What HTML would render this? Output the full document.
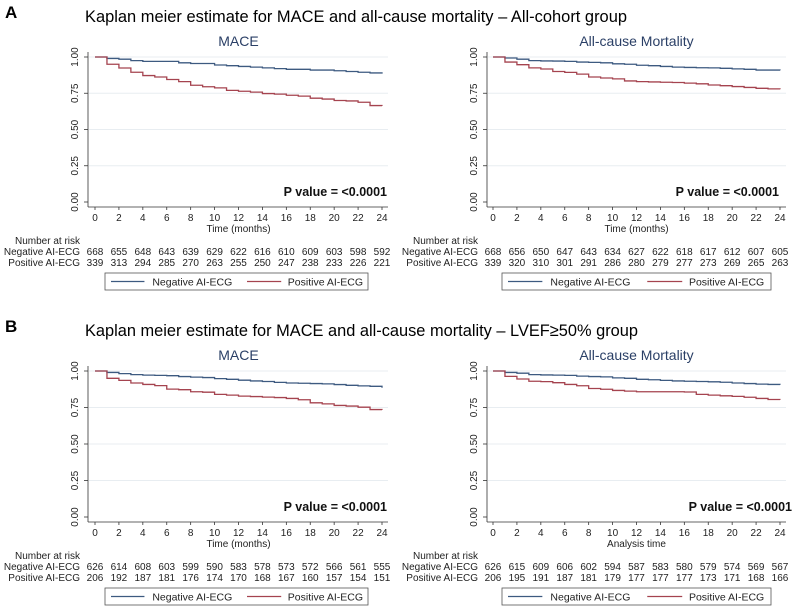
<!DOCTYPE html>
<html><head><meta charset="utf-8"><style>
html,body{margin:0;padding:0;background:#fff;}
svg{display:block;font-family:"Liberation Sans",Arial,sans-serif;}
</style></head><body>
<svg id="fig" width="796" height="608" viewBox="0 0 796 608">
<text x="5" y="18" font-size="17" font-weight="bold">A</text>
<text x="85" y="22" font-size="17" textLength="542" lengthAdjust="spacingAndGlyphs">Kaplan meier estimate for MACE and all-cause mortality – All-cohort group</text>
<text x="5" y="332" font-size="17" font-weight="bold">B</text>
<text x="85" y="336" font-size="17" textLength="553" lengthAdjust="spacingAndGlyphs">Kaplan meier estimate for MACE and all-cause mortality – LVEF≥50% group</text>
</svg>
<script>
const months = [0,1,2,3,4,5,6,7,8,9,10,11,12,13,14,15,16,17,18,19,20,21,22,23,24];
const xTicks = [0,2,4,6,8,10,12,14,16,18,20,22,24];
const yTicks = [0,0.25,0.5,0.75,1];
const yTickLabels = ["0.00","0.25","0.50","0.75","1.00"];

const aMaceNeg = [1,0.99,0.985,0.975,0.97,0.97,0.97,0.96,0.955,0.955,0.945,0.94,0.935,0.93,0.925,0.92,0.915,0.915,0.91,0.91,0.905,0.9,0.895,0.89,0.885];
const aMacePos = [1,0.95,0.924,0.895,0.872,0.862,0.845,0.83,0.805,0.795,0.787,0.77,0.764,0.758,0.748,0.744,0.736,0.73,0.716,0.71,0.70,0.697,0.688,0.665,0.663];
const aMortNeg = [1,0.993,0.985,0.975,0.973,0.972,0.97,0.965,0.963,0.96,0.953,0.95,0.943,0.94,0.935,0.93,0.928,0.926,0.925,0.922,0.918,0.915,0.91,0.91,0.908];
const aMortPos = [1,0.965,0.947,0.925,0.917,0.9,0.894,0.882,0.862,0.855,0.849,0.835,0.83,0.828,0.826,0.824,0.82,0.815,0.807,0.802,0.796,0.79,0.784,0.78,0.778];
const bMaceNeg = [1,0.99,0.982,0.975,0.972,0.97,0.968,0.962,0.958,0.955,0.948,0.943,0.937,0.932,0.928,0.922,0.918,0.916,0.914,0.912,0.907,0.902,0.898,0.895,0.885];
const bMacePos = [1,0.95,0.936,0.918,0.908,0.9,0.876,0.872,0.858,0.855,0.84,0.835,0.828,0.825,0.821,0.818,0.812,0.803,0.782,0.775,0.764,0.76,0.752,0.736,0.734];
const bMortNeg = [1,0.99,0.985,0.975,0.973,0.972,0.97,0.965,0.962,0.96,0.953,0.95,0.943,0.94,0.936,0.932,0.93,0.928,0.926,0.923,0.918,0.914,0.91,0.908,0.906];
const bMortPos = [1,0.963,0.945,0.93,0.927,0.92,0.908,0.899,0.88,0.875,0.867,0.862,0.858,0.858,0.858,0.858,0.856,0.84,0.835,0.83,0.826,0.82,0.812,0.805,0.803];

const aMaceRiskNeg = [668,655,648,643,639,629,622,616,610,609,603,598,592];
const aMaceRiskPos = [339,313,294,285,270,263,255,250,247,238,233,226,221];
const aMortRiskNeg = [668,656,650,647,643,634,627,622,618,617,612,607,605];
const aMortRiskPos = [339,320,310,301,291,286,280,279,277,273,269,265,263];
const bMaceRiskNeg = [626,614,608,603,599,590,583,578,573,572,566,561,555];
const bMaceRiskPos = [206,192,187,181,176,174,170,168,167,160,157,154,151];
const bMortRiskNeg = [626,615,609,606,602,594,587,583,580,579,574,569,567];
const bMortRiskPos = [206,195,191,187,181,179,177,177,177,173,171,168,166];

const NS = "http://www.w3.org/2000/svg";
const svg = document.getElementById('fig');
function el(tag, attrs, parent, text){
  const e = document.createElementNS(NS, tag);
  for (const k in attrs) e.setAttribute(k, attrs[k]);
  if (text !== undefined) e.textContent = text;
  (parent||svg).appendChild(e);
  return e;
}
const NEG = "#3d5a80", POS = "#a5434f";

function panel(p){
  const g = el('g', {});
  
  
  const x = t => p.x0 + (p.x1 - p.x0) * t / 24;
  const y = v => p.yb + (p.yt - p.yb) * v;
  const st = el('text', {x:(p.x0+p.x1)/2, y:p.yt-11, 'font-size':14, fill:'#2a3f66', 'text-anchor':'middle'}, g, p.sub);
  
  
  yTicks.forEach((v,i)=>{
    if (v > 0) {
      const gl = el('line', {x1:p.ax+1, x2:p.x1+6, y1:y(v), y2:y(v), stroke:'#e8edf1', 'stroke-width':1}, g);
      
      
    }
    el('line', {x1:p.ax-4, x2:p.ax, y1:y(v), y2:y(v), stroke:'#333', 'stroke-width':0.8}, g);
    const tl = el('text', {x:0, y:0, 'font-size':10, 'text-anchor':'middle', fill:'#222',
      transform:`translate(${p.ax-10},${y(v)}) rotate(-90)`}, g, yTickLabels[i]);
    
    
  });
  el('line', {x1:p.ax, x2:p.ax, y1:p.yt-5, y2:p.axY, stroke:'#333', 'stroke-width':0.8}, g);
  el('line', {x1:p.ax, x2:p.x1+6, y1:p.axY, y2:p.axY, stroke:'#333', 'stroke-width':0.8}, g);
  xTicks.forEach(t=>{
    el('line', {x1:x(t), x2:x(t), y1:p.axY, y2:p.axY+3, stroke:'#333', 'stroke-width':0.8}, g);
    const tl = el('text', {x:x(t), y:p.axY+14, 'font-size':10, 'text-anchor':'middle', fill:'#222'}, g, String(t));
    
    
  });
  const xt = el('text', {x:(p.x0+p.x1)/2, y:p.axY+25, 'font-size':10, 'text-anchor':'middle', fill:'#222'}, g, p.xtitle);
  
  
  [[p.neg, NEG, 'negative-ai-ecg-curve'], [p.pos, POS, 'positive-ai-ecg-curve']].forEach(([arr,c,nm])=>{
    let d = `M${x(months[0])},${y(arr[0])}`;
    for (let i=1;i<arr.length;i++){ d += ` H${x(months[i])} V${y(arr[i])}`; }
    const path = el('path', {d, fill:'none', stroke:c, 'stroke-width':1.3}, g);
    
    
  });
  const pv = el('text', {x:p.pvx, y:p.yb-6, 'font-size':12.5, 'font-weight':'bold', 'text-anchor':'end', fill:'#111'}, g, 'P value = <0.0001');
  
  
  const nar = el('text', {x:p.lx, y:p.axY+37, 'font-size':10, 'text-anchor':'end', fill:'#222'}, g, 'Number at risk');
  
  
  [['Negative AI-ECG', p.rn, 48], ['Positive AI-ECG', p.rp, 59]].forEach(([lab, arr, dy])=>{
    const rl = el('text', {x:p.lx, y:p.axY+dy, 'font-size':10, 'text-anchor':'end', fill:'#222'}, g, lab);
    
    
    arr.forEach((n,i)=>{
      const rv = el('text', {x:x(xTicks[i]), y:p.axY+dy, 'font-size':10, 'text-anchor':'middle', fill:'#222'}, g, String(n));
      
      
    });
  });
  const lg = el('g', {}, g);
  
  
  const ly = p.axY + 66;
  el('rect', {x:p.lgx, y:ly, width:p.lgw, height:17, fill:'#fff', stroke:'#555', 'stroke-width':0.8}, lg);
  const w = p.lgw;
  el('line', {x1:p.lgx+6, x2:p.lgx+w*0.15, y1:ly+8.5, y2:ly+8.5, stroke:NEG, 'stroke-width':1.2}, lg);
  const t1 = el('text', {x:p.lgx+w*0.18, y:ly+12.5, 'font-size':10.5, fill:'#222'}, lg, 'Negative AI-ECG');
  
  
  el('line', {x1:p.lgx+w*0.54, x2:p.lgx+w*0.67, y1:ly+8.5, y2:ly+8.5, stroke:POS, 'stroke-width':1.2}, lg);
  const t2 = el('text', {x:p.lgx+w*0.695, y:ly+12.5, 'font-size':10.5, fill:'#222'}, lg, 'Positive AI-ECG');
  
  
}

panel({name:'panel-a-mace', sub:'MACE', xtitle:'Time (months)', x0:95, x1:382, ax:88, yt:57, yb:202, axY:207, pvx:387, lx:80, lgx:105, lgw:263, neg:aMaceNeg, pos:aMacePos, rn:aMaceRiskNeg, rp:aMaceRiskPos});
panel({name:'panel-a-mortality', sub:'All-cause Mortality', xtitle:'Time (months)', x0:493, x1:780, ax:487, yt:57, yb:202, axY:207, pvx:779, lx:478, lgx:502, lgw:269, neg:aMortNeg, pos:aMortPos, rn:aMortRiskNeg, rp:aMortRiskPos});
panel({name:'panel-b-mace', sub:'MACE', xtitle:'Time (months)', x0:95, x1:382, ax:88, yt:371, yb:517, axY:522, pvx:387, lx:80, lgx:105, lgw:263, neg:bMaceNeg, pos:bMacePos, rn:bMaceRiskNeg, rp:bMaceRiskPos});
panel({name:'panel-b-mortality', sub:'All-cause Mortality', xtitle:'Analysis time', x0:493, x1:780, ax:487, yt:371, yb:517, axY:522, pvx:792, lx:478, lgx:502, lgw:269, neg:bMortNeg, pos:bMortPos, rn:bMortRiskNeg, rp:bMortRiskPos});
</script>
</body></html>
